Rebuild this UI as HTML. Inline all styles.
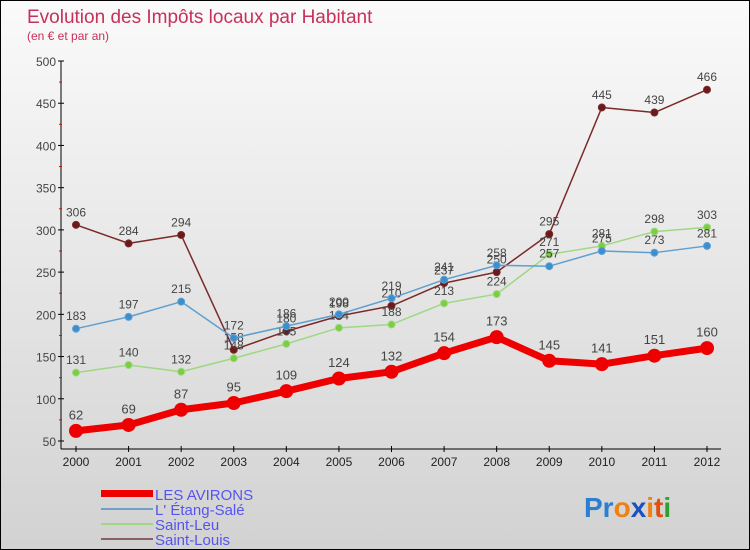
<!DOCTYPE html>
<html><head><meta charset="utf-8"><style>
body{margin:0}
#c{width:750px;height:550px;position:relative;box-sizing:border-box;border:1px solid #000;background:linear-gradient(#fafafa,#d2d2d2);font-family:"Liberation Sans",sans-serif;overflow:hidden}
</style></head><body>
<div id="c">
<svg width="750" height="550" style="position:absolute;left:0;top:0" id="s">
<text x="26" y="22" font-size="19" fill="#c8305a">Evolution des Impôts locaux par Habitant</text>
<text x="26" y="39" font-size="12" fill="#c8305a">(en € et par an)</text>
<g id="axes"></g><g id="series"></g>
<g font-size="15" fill="#5555ee">
<rect x="100" y="489" width="52" height="7" fill="#e00"/>
<text x="154" y="499">LES AVIRONS</text>
<rect x="100" y="507" width="52" height="2" fill="#6fa0c8"/>
<text x="154" y="514">L' Étang-Salé</text>
<rect x="100" y="522" width="52" height="2" fill="#9ed882"/>
<text x="154" y="529">Saint-Leu</text>
<rect x="100" y="537" width="52" height="2" fill="#8a6060"/>
<text x="154" y="544">Saint-Louis</text>
</g>
<g font-size="28" font-weight="bold">
<text x="583" y="516"><tspan fill="#2a7fd0">Pr</tspan><tspan fill="#f08010">o</tspan><tspan fill="#1a50c0">x</tspan><tspan fill="#f08010">i</tspan><tspan fill="#e05010">t</tspan><tspan fill="#30a030">i</tspan></text>
</g>
</svg>
</div>
<script>
const years=["2000","2001","2002","2003","2004","2005","2006","2007","2008","2009","2010","2011","2012"];
const yTicks=[50,100,150,200,250,300,350,400,450,500];
const avirons=[62,69,87,95,109,124,132,154,173,145,141,151,160];
const etang=[183,197,215,172,186,200,219,241,258,257,275,273,281];
const leu=[131,140,132,148,165,184,188,213,224,271,281,298,303];
const louis=[306,284,294,158,180,198,210,237,250,295,445,439,466];
const NS="http://www.w3.org/2000/svg";
function X(i){return 75+i*(706-75)/12;}
function Y(v){return 440-(v-50)*380/450;}
function mk(t,a,p){const e=document.createElementNS(NS,t);for(const k in a)e.setAttribute(k,a[k]);p.appendChild(e);return e;}
const ax=document.getElementById('axes');
const yl=mk('line',{x1:60,y1:60,x2:60,y2:448,stroke:'#000','stroke-width':1},ax);


const xl=mk('line',{x1:60,y1:448,x2:720,y2:448,stroke:'#000','stroke-width':1},ax);


yTicks.forEach(v=>{
  mk('line',{x1:57,y1:Y(v),x2:63,y2:Y(v),stroke:'#000'},ax);
  if(v<500)mk('line',{x1:58,y1:Y(v+25),x2:61,y2:Y(v+25),stroke:'#e00'},ax);
  const t=mk('text',{x:55,y:Y(v)+5,'font-size':12,fill:'#444','text-anchor':'end'},ax);
  t.textContent=v;
  
  
});
years.forEach((y,i)=>{
  mk('line',{x1:X(i),y1:445,x2:X(i),y2:451,stroke:'#000'},ax);
  const t=mk('text',{x:X(i),y:465,'font-size':12,fill:'#222','text-anchor':'middle'},ax);
  t.textContent=y;
  
  
});
const sg=document.getElementById('series');
function series(data,name,line,dot,w,r,fs){
  const g=mk('g',{},sg);
  
  
  const p=mk('polyline',{points:data.map((v,i)=>X(i)+','+Y(v)).join(' '),fill:'none',stroke:line,'stroke-width':w,'stroke-linejoin':'round'},g);
  
  
  data.forEach((v,i)=>{
    const c=mk('circle',{cx:X(i),cy:Y(v),r:r,fill:dot,stroke:line,'stroke-width':1},g);
    
    
    const t=mk('text',{x:X(i),y:Y(v)-r-5,'font-size':fs,fill:'#444','text-anchor':'middle'},g);
    t.textContent=v;
    
    
  });
}
series(louis,'saint-louis','#7a2a2a','#6a1a1a',1.5,3.5,12);
series(leu,'saint-leu','#9ed882','#7ccc44',1.5,3.5,12);
series(etang,'etang-sale','#5f9fd0','#3a8fd0',1.5,3.5,12);
series(avirons,'les-avirons','#ee0000','#ee0000',7,6.5,13);
</script>
</body></html>
